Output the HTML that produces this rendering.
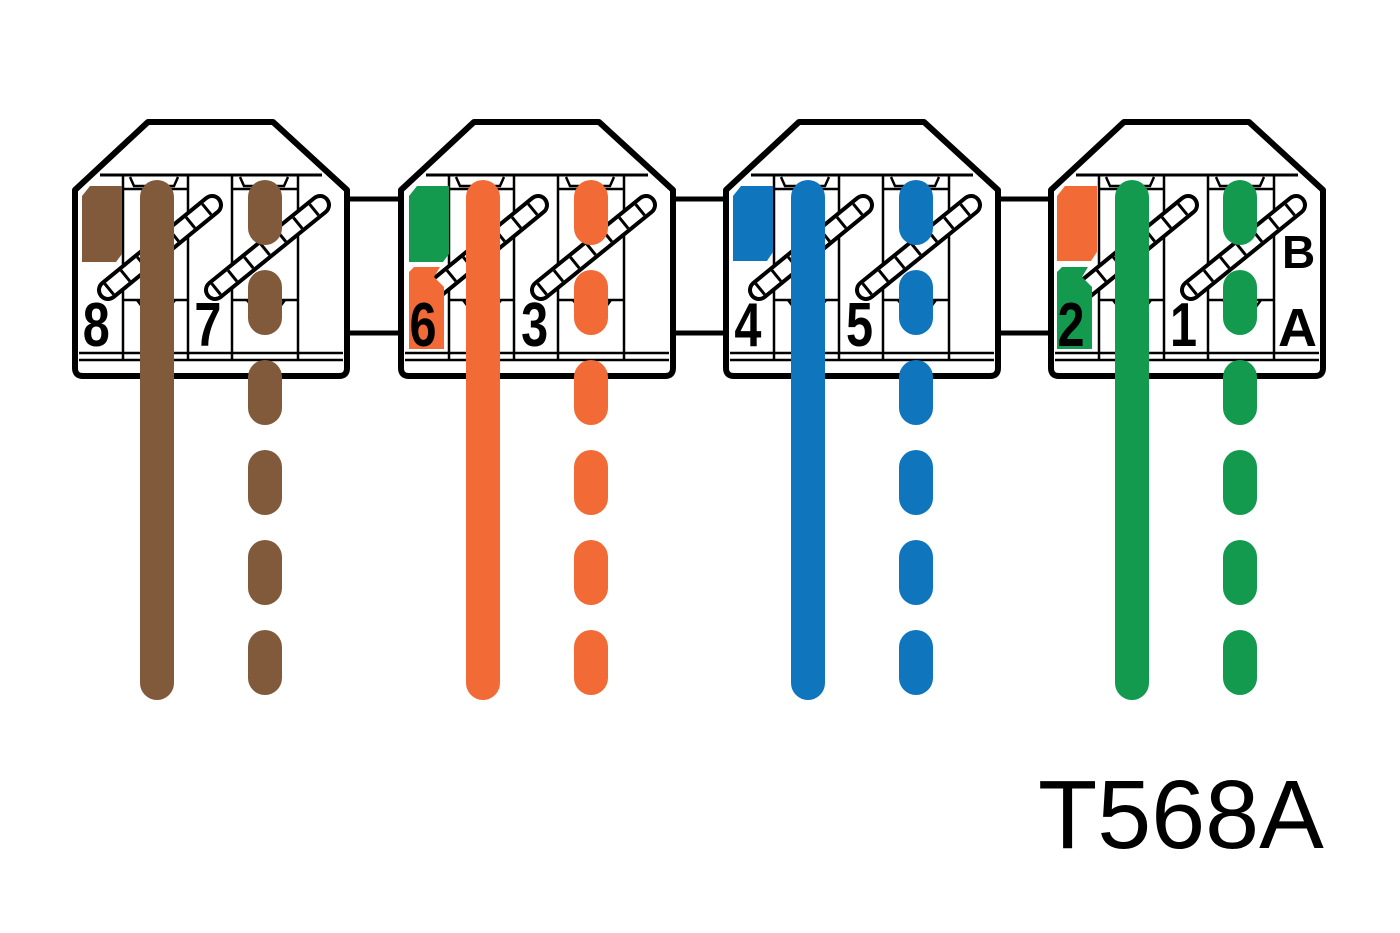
<!DOCTYPE html>
<html><head><meta charset="utf-8"><style>html,body{margin:0;padding:0;background:#fff}svg{display:block}</style></head>
<body>
<svg width="1400" height="933" viewBox="0 0 1400 933" xmlns="http://www.w3.org/2000/svg">
<defs>
<g id="mod">
  <path d="M73,0 H198 L272,68 V246 Q272,254 264,254 H8 Q0,254 0,246 V68 Z" fill="#fff" stroke="#000" stroke-width="6" stroke-linejoin="round"/>
  <line x1="25" y1="53" x2="247" y2="53" stroke="#000" stroke-width="3"/>
  <g stroke="#000" stroke-width="2.5" fill="none">
    <line x1="48" y1="53" x2="48" y2="238"/>
    <line x1="113" y1="53" x2="113" y2="238"/>
    <line x1="157" y1="53" x2="157" y2="238"/>
    <line x1="223" y1="53" x2="223" y2="238"/>
    <line x1="4" y1="231" x2="268" y2="231"/>
    <line x1="4" y1="238" x2="268" y2="238"/>
    <path d="M48,67 H113 M157,67 H223"/>
    <path d="M55,55 l4,9 h40 l4,-9 M165,55 l4,9 h40 l4,-9"/>
    <path d="M48,178 H113 M157,178 H223"/>
    <path d="M62,178 l6,8 M100,178 l-6,8 M172,178 l6,8 M210,178 l-6,8"/>
  </g>
  <g>
    <line x1="33" y1="168" x2="137" y2="83" stroke="#000" stroke-width="22" stroke-linecap="round"/>
    <line x1="33" y1="168" x2="137" y2="83" stroke="#fff" stroke-width="14" stroke-linecap="round"/>
    <line x1="33" y1="168" x2="137" y2="83" stroke="#000" stroke-width="14" stroke-dasharray="3 18"/>
    <line x1="140" y1="168" x2="245" y2="83" stroke="#000" stroke-width="22" stroke-linecap="round"/>
    <line x1="140" y1="168" x2="245" y2="83" stroke="#fff" stroke-width="14" stroke-linecap="round"/>
    <line x1="140" y1="168" x2="245" y2="83" stroke="#000" stroke-width="14" stroke-dasharray="3 18"/>
  </g>
</g>
</defs>

<g fill="#fff" stroke="#000" stroke-width="5">
  <rect x="345" y="199" width="59" height="134"/>
  <rect x="670" y="199" width="59" height="134"/>
  <rect x="995" y="199" width="59" height="134"/>
</g>

<use href="#mod" transform="translate(75,122)"/>
<use href="#mod" transform="translate(401,122)"/>
<use href="#mod" transform="translate(726,122)"/>
<use href="#mod" transform="translate(1051,122)"/>

<path d="M82,196 l8,-10 h32 v68 l-6,8 h-34 z" fill="#805a3b"/>
<path d="M409,196 l8,-10 h32 v68 l-6,8 h-34 z" fill="#139a4f"/>
<path d="M409,272 l5,-5 h26 l-6,10 l10,10 v62 h-35 z" fill="#f26a36"/>
<path d="M733,196 l8,-10 h32 v66 l-6,9 h-34 z" fill="#0f76bd"/>
<path d="M1057,196 l8,-10 h32 v66 l-6,9 h-34 z" fill="#f26a36"/>
<path d="M1057,272 l5,-5 h26 l-6,10 l10,10 v62 h-35 z" fill="#139a4f"/>

<g font-family="Liberation Sans, sans-serif" font-weight="bold" font-size="54" fill="#000">
  <g transform="translate(0,346) scale(0.9,1.15)">
    <text x="92" y="0">8</text>
    <text x="216" y="0">7</text>
    <text x="455" y="0">6</text>
    <text x="579" y="0">3</text>
    <text x="816" y="0">4</text>
    <text x="940" y="0">5</text>
    <text x="1175" y="0">2</text>
    <text x="1300" y="0">1</text>
  </g>
  <text x="1278" y="346">A</text>
  <text x="1282" y="268" font-size="46">B</text>
</g>

<g stroke-width="34" stroke-linecap="round">
  <line x1="157" y1="197" x2="157" y2="683" stroke="#805a3b"/>
  <line x1="265" y1="197" x2="265" y2="680" stroke="#805a3b" stroke-dasharray="31 59"/>
  <line x1="483" y1="197" x2="483" y2="683" stroke="#f26a36"/>
  <line x1="591" y1="197" x2="591" y2="680" stroke="#f26a36" stroke-dasharray="31 59"/>
  <line x1="808" y1="197" x2="808" y2="683" stroke="#0f76bd"/>
  <line x1="916" y1="197" x2="916" y2="680" stroke="#0f76bd" stroke-dasharray="31 59"/>
  <line x1="1132" y1="197" x2="1132" y2="683" stroke="#139a4f"/>
  <line x1="1240" y1="197" x2="1240" y2="680" stroke="#139a4f" stroke-dasharray="31 59"/>
</g>

<text x="1038" y="848" font-family="Liberation Sans, sans-serif" font-size="97" fill="#000">T568A</text>
</svg>
</body></html>
